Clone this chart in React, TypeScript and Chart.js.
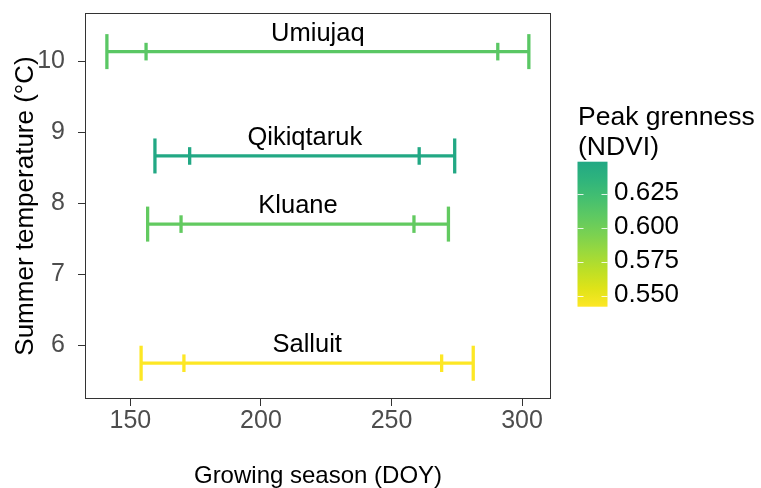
import { useEffect, useRef } from 'react';
import { Chart, registerables } from 'chart.js';

Chart.register(...registerables);

// Sites and their growing-season summaries
const sites = ['Umiujaq', 'Qikiqtaruk', 'Kluane', 'Salluit'];
const summerTemp = [10.14, 8.67, 7.71, 5.75];
const seasonStart = [141, 159.4, 156.6, 154.1];
const greenUp = [156, 172.7, 169.4, 170.5];
const senescence = [290.7, 260.6, 258.6, 269.2];
const seasonEnd = [302.6, 274.2, 271.8, 281.3];
const peakNdvi = [0.611, 0.649, 0.607, 0.542];

// Axis ticks and colour-bar breaks
const xTicks = [150, 200, 250, 300];
const yTicks = [6, 7, 8, 9, 10];
const ndviTicks = [0.55, 0.575, 0.6, 0.625];
const ndviLimits = [0.5418, 0.649];

// Upper part of the viridis palette (0.6 -> 1.0)
const viridis = ['#22A884', '#2FB47C', '#44BF70', '#5EC962', '#7AD151', '#9BD93C', '#BDDF26', '#DFE318', '#FDE725'];

const FONT = '"Liberation Sans", Arial, sans-serif';

function hexToRgb(h: string) {
  const n = parseInt(h.slice(1), 16);
  return [(n >> 16) & 255, (n >> 8) & 255, n & 255];
}

function ndviColor(v: number) {
  const [lo, hi] = ndviLimits;
  let f = (hi - v) / (hi - lo);
  f = Math.max(0, Math.min(1, f));
  const pos = f * (viridis.length - 1);
  const i = Math.min(Math.floor(pos), viridis.length - 2);
  const t = pos - i;
  const a = hexToRgb(viridis[i]);
  const b = hexToRgb(viridis[i + 1]);
  const c = a.map((av, k) => Math.round(av + (b[k] - av) * t));
  return `rgb(${c[0]},${c[1]},${c[2]})`;
}

const siteLabels = {
  id: 'siteLabels',
  afterDatasetsDraw(chart: any) {
    const { ctx, scales } = chart;
    ctx.save();
    ctx.fillStyle = '#000';
    ctx.font = `25.5px ${FONT}`;
    ctx.textAlign = 'center';
    ctx.textBaseline = 'alphabetic';
    sites.forEach((s, i) => {
      const x = scales.x.getPixelForValue((seasonStart[i] + seasonEnd[i]) / 2);
      const y = scales.y.getPixelForValue(summerTemp[i]) - 11;
      ctx.fillText(s, x, y);
    });
    ctx.restore();
  },
};

const panelFrame = {
  id: 'panelFrame',
  afterDraw(chart: any) {
    const { ctx, chartArea } = chart;
    const l = Math.round(chartArea.left) - 0.5;
    const t = Math.round(chartArea.top) - 0.5;
    const r = Math.round(chartArea.right) + 0.5;
    const b = Math.round(chartArea.bottom) + 0.5;
    ctx.save();
    ctx.strokeStyle = '#333333';
    ctx.lineWidth = 1;
    ctx.strokeRect(l, t, r - l, b - t);
    ctx.restore();
  },
};

const ndviColorbar = {
  id: 'ndviColorbar',
  afterDraw(chart: any) {
    const { ctx } = chart;
    const barL = 577.5;
    const barW = 30;
    const barTop = 161.7;
    const barBottom = 306.7;
    const [lo, hi] = ndviLimits;
    const yOf = (v: number) => barBottom - ((v - lo) / (hi - lo)) * (barBottom - barTop);

    ctx.save();
    // title
    ctx.fillStyle = '#000';
    ctx.font = `26.5px ${FONT}`;
    ctx.textAlign = 'left';
    ctx.textBaseline = 'alphabetic';
    ctx.fillText('Peak grenness', 578, 125);
    ctx.fillText('(NDVI)', 578, 155);

    // gradient bar: top = high NDVI (teal), bottom = low NDVI (yellow)
    const g = ctx.createLinearGradient(0, barTop, 0, barBottom);
    viridis.forEach((c, k) => {
      g.addColorStop(k / (viridis.length - 1), c);
    });
    ctx.fillStyle = g;
    ctx.fillRect(barL, barTop, barW, barBottom - barTop);

    // break marks
    ctx.strokeStyle = 'rgba(255,255,255,0.85)';
    ctx.lineWidth = 1;
    ndviTicks.forEach((v) => {
      const y = Math.round(yOf(v)) + 0.5;
      ctx.beginPath();
      ctx.moveTo(barL, y);
      ctx.lineTo(barL + 6, y);
      ctx.moveTo(barL + barW - 6, y);
      ctx.lineTo(barL + barW, y);
      ctx.stroke();
    });

    // labels
    ctx.fillStyle = '#000';
    ctx.font = `26px ${FONT}`;
    ctx.textBaseline = 'middle';
    ndviTicks.forEach((v) => {
      ctx.fillText(v.toFixed(3), 614, yOf(v) - 1);
    });
    ctx.restore();
  },
};

export default function App() {
  const canvasRef = useRef<HTMLCanvasElement | null>(null);

  useEffect(() => {
    document.body.style.margin = '0';
    const canvas = canvasRef.current;
    if (!canvas) return;

    const datasets = sites.map((s, i) => {
      const c = ndviColor(peakNdvi[i]);
      const y = summerTemp[i];
      return {
        label: s,
        data: [
          { x: seasonStart[i], y },
          { x: greenUp[i], y },
          { x: senescence[i], y },
          { x: seasonEnd[i], y },
        ],
        borderColor: c,
        backgroundColor: c,
        borderWidth: 3.3,
        pointStyle: 'line',
        pointRotation: 90,
        pointRadius: [17.5, 8.8, 8.8, 17.5],
        pointHoverRadius: [17.5, 8.8, 8.8, 17.5],
        pointBorderWidth: 3.3,
        pointHoverBorderWidth: 3.3,
        pointBorderColor: c,
        pointBackgroundColor: c,
        tension: 0,
        clip: false as any,
      };
    });

    const chart = new Chart(canvas, {
      type: 'line',
      data: { datasets: datasets as any },
      options: {
        animation: false,
        responsive: false,
        devicePixelRatio: 1,
        events: [],
        layout: { autoPadding: false, padding: { top: 14, right: 211, bottom: 0, left: 0 } },
        plugins: {
          legend: { display: false },
          tooltip: { enabled: false },
        },
        scales: {
          x: {
            type: 'linear',
            min: 133,
            max: 310.7,
            afterBuildTicks: (s: any) => {
              s.ticks = xTicks.map((v) => ({ value: v }));
            },
            afterFit: (s: any) => {
              s.height = 90;
              s.paddingLeft = 0;
              s.paddingRight = 0;
            },
            ticks: {
              color: '#4D4D4D',
              font: { family: FONT, size: 25 },
              padding: 0,
              maxRotation: 0,
              autoSkip: false,
            },
            grid: {
              display: true,
              drawOnChartArea: false,
              drawTicks: true,
              tickLength: 8,
              color: '#333333',
              lineWidth: 1,
            },
            border: { display: false },
            title: {
              display: true,
              text: 'Growing season (DOY)',
              color: '#000',
              font: { family: FONT, size: 24, lineHeight: 1 },
              padding: { top: 0, bottom: 0 },
            },
          },
          y: {
            type: 'linear',
            min: 5.26,
            max: 10.67,
            afterBuildTicks: (s: any) => {
              s.ticks = yTicks.map((v) => ({ value: v }));
            },
            afterFit: (s: any) => {
              s.width = 86;
              s.paddingTop = 0;
              s.paddingBottom = 0;
            },
            ticks: {
              color: '#4D4D4D',
              font: { family: FONT, size: 25 },
              padding: 13,
              autoSkip: false,
            },
            grid: {
              display: true,
              drawOnChartArea: false,
              drawTicks: true,
              tickLength: 8,
              color: '#333333',
              lineWidth: 1,
            },
            border: { display: false },
            title: {
              display: true,
              text: 'Summer temperature (°C)',
              color: '#000',
              font: { family: FONT, size: 26, lineHeight: 1 },
              padding: { top: 13, bottom: 0 },
            },
          },
        },
      },
      plugins: [siteLabels, panelFrame, ndviColorbar],
    });

    return () => chart.destroy();
  }, []);

  return (
    <div style={{ width: 761, height: 488 }}>
      <canvas ref={canvasRef} width={761} height={488} style={{ display: 'block' }} />
    </div>
  );
}
